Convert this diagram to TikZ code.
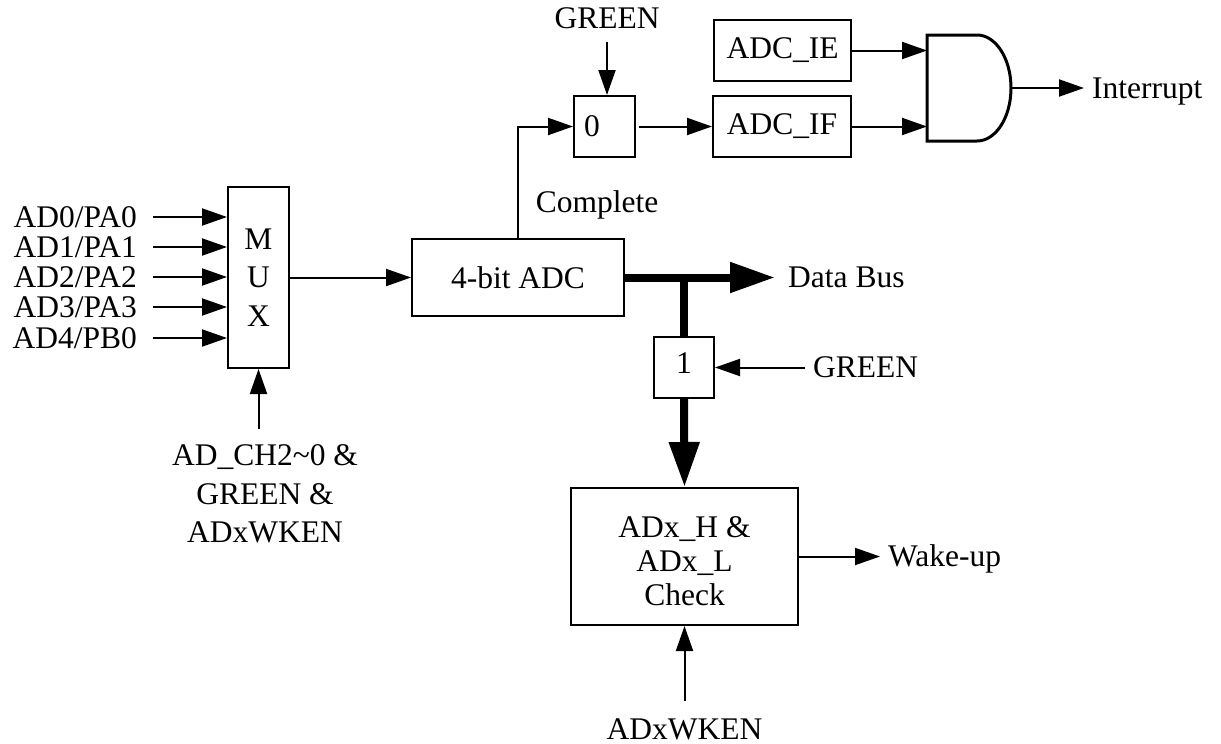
\documentclass[tikz,border=0pt]{standalone}
\usepackage{fontspec}
\setmainfont{Liberation Serif}
\usetikzlibrary{arrows.meta}
\begin{document}
\begin{tikzpicture}[x=1pt,y=-1pt,
  font=\fontsize{31.5}{38.5}\selectfont,
  box/.style={draw,line width=2pt,inner sep=0pt},
  lbl/.style={inner sep=0pt,text height=20.8pt,text depth=0pt},
  arr/.style={line width=2pt,-{Triangle[length=25pt,width=17pt]}},
  bus/.style={line width=8pt},
  busarr/.style={line width=8pt,-{Triangle[length=45pt,width=29pt]}}]
\useasboundingbox (0,0) rectangle (1221,744);

% MUX
\node[box,minimum width=61pt,minimum height=181pt,align=center] (mux) at (258.5,277.5) {M\\U\\X};
\node[lbl,anchor=east] (in0) at (137,217) {AD0/PA0};
\node[lbl,anchor=east] (in1) at (137,247) {AD1/PA1};
\node[lbl,anchor=east] (in2) at (137,277) {AD2/PA2};
\node[lbl,anchor=east] (in3) at (137,307) {AD3/PA3};
\node[lbl,anchor=east] (in4) at (137,338) {AD4/PB0};
\draw[arr] ([xshift=16pt]in0.east) -- (in0.east -| mux.west);
\draw[arr] ([xshift=16pt]in1.east) -- (in1.east -| mux.west);
\draw[arr] ([xshift=16pt]in2.east) -- (in2.east -| mux.west);
\draw[arr] ([xshift=16pt]in3.east) -- (in3.east -| mux.west);
\draw[arr] ([xshift=16pt]in4.east) -- (in4.east -| mux.west);

\node[align=center] (sel) at (265,494) {AD\_CH2\textasciitilde 0 \&\\GREEN \&\\ADxWKEN};
\coordinate (selTop) at (258.5,429);
\draw[arr] (selTop) -- (mux.south);

% ADC
\node[box,minimum width=212pt,minimum height=77pt] (adc) at (518,277.5) {4-bit ADC};
\draw[arr] (mux.east) -- (adc.west);

% Complete path and flag
\node[box,minimum width=61pt,minimum height=61pt] (b0) at (604.5,126.5) {};
\node[lbl] (b0t) at (592,126.5) {0};
\node[lbl] (complete) at (597,202) {Complete};
\draw[arr] (adc.north) |- (b0.west);
\node[lbl] (g0) at (607,18) {GREEN};
\draw[arr] ([yshift=-13.5pt]g0.south) -- (g0.south |- b0.north);

\node[box,minimum width=138pt,minimum height=61pt] (adcif) at (782,126.5) {ADC\_IF};
\node[box,minimum width=137pt,minimum height=61pt] (adcie) at (782.5,50.5) {ADC\_IE};
\draw[arr] ([xshift=3pt]b0.east) -- (adcif.west);

% AND gate
\draw[line width=3pt,line join=miter] (977,35) -- (927,35) -- (927,141) -- (977,141)
  .. controls (995.8,141) and (1011,117.3) .. (1011,88)
  .. controls (1011,58.7) and (995.8,35) .. cycle;
\coordinate (gin1) at (927,52);
\coordinate (gin2) at (927,125);
\coordinate (gout) at (1011,88);
\draw[arr] (adcie.east) -- (adcie.east -| gin1);
\draw[arr] (adcif.east) -- (adcif.east -| gin2);
\node[lbl,anchor=west] (intr) at (1092,88) {Interrupt};
\draw[arr] (gout) -- ([xshift=-8pt]intr.west);

% Data bus
\node[lbl,anchor=west] (dbus) at (788,277.5) {Data Bus};
\draw[busarr] (adc.east) -- ([xshift=-13pt]dbus.west);

\node[box,minimum width=60pt,minimum height=61pt] (b1) at (684,367.5) {};
\node[lbl] (b1t) at (684,363) {1};
\draw[bus] (adc.east -| b1.north) -- (b1.north);
\node[lbl,anchor=west] (g1) at (813,367.5) {GREEN};
\draw[arr] ([xshift=-8pt]g1.west) -- (b1.east);

% Check
\node[box,minimum width=227pt,minimum height=137pt] (chk) at (684.5,556.5) {};
\node[align=center,font=\fontsize{31.5}{34}\selectfont] (chkt) at (684.5,561) {ADx\_H \&\\ADx\_L\\Check};
\draw[busarr] (b1.south) -- (chk.north);
\node[lbl,anchor=west] (wk) at (888,556.5) {Wake-up};
\draw[arr] (chk.east) -- ([xshift=-8pt]wk.west);
\node[lbl] (wken) at (684.5,729) {ADxWKEN};
\draw[arr] ([yshift=17.5pt]wken.north) -- (chk.south);
\end{tikzpicture}
\end{document}
